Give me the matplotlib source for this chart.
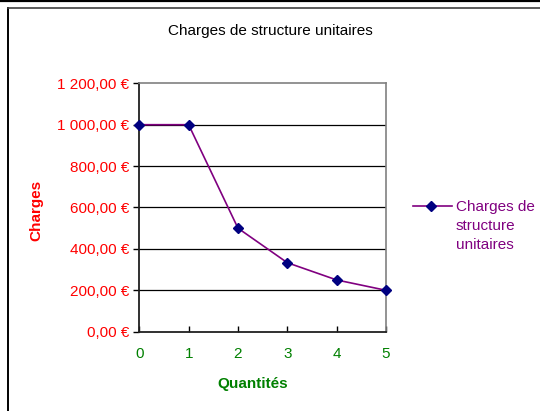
import matplotlib
matplotlib.use("Agg")
import matplotlib.pyplot as plt
from matplotlib.lines import Line2D

quantites = [0, 1, 2, 3, 4, 5]
charges = [1000, 1000, 500, 333.33, 250, 200]
y_ticks = [0, 200, 400, 600, 800, 1000, 1200]
y_labels = ["0,00 €", "200,00 €", "400,00 €", "600,00 €", "800,00 €", "1 000,00 €", "1 200,00 €"]
series_name = "Charges de structure unitaires"

plt.rcParams['font.family'] = ['Liberation Sans', 'DejaVu Sans']

W, H = 540, 411
fig = plt.figure(figsize=(W / 100, H / 100), dpi=100)

# frame lines
fig.add_artist(Line2D([0, 1], [1 - 0.8 / H, 1 - 0.8 / H], transform=fig.transFigure, color='black', lw=1.6))
fig.add_artist(Line2D([7.5 / W, 7.5 / W], [0, 1 - 8 / H], transform=fig.transFigure, color='black', lw=1.4))
fig.add_artist(Line2D([7.5 / W, 1], [1 - 8 / H, 1 - 8 / H], transform=fig.transFigure, color='#404040', lw=1.2))

left, right, top, bottom = 139.3, 386, 83.3, 331.7
ax = fig.add_axes([left / W, (H - bottom) / H, (right - left) / W, (bottom - top) / H])

ax.plot(quantites, charges, color='#800080', lw=1.2, marker='D', markersize=5.5,
        markerfacecolor='#000080', markeredgecolor='#000080', zorder=3, clip_on=False)

ax.set_xlim(0, 5)
ax.set_ylim(0, 1200)
ax.set_yticks(y_ticks)
ax.set_yticklabels(y_labels, color='#FF0000', fontsize=11)
ax.set_xticks(quantites)
ax.set_xticklabels([str(q) for q in quantites], color='#008000', fontsize=11)
ax.tick_params(axis='y', direction='out', length=4, width=1, pad=3)
ax.tick_params(axis='x', direction='in', length=4, width=1, pad=11)

for yv in y_ticks[1:-1]:
    ax.axhline(yv, color='black', lw=0.9, zorder=1)

for s in ['top', 'right']:
    ax.spines[s].set_color('#808080')
    ax.spines[s].set_linewidth(1.2)
for s in ['left', 'bottom']:
    ax.spines[s].set_color('#202020')
    ax.spines[s].set_linewidth(1.3)

fig.text(270 / W, 1 - 31 / H, series_name, ha='center', va='center', fontsize=11, color='black')
fig.text(36 / W, 1 - 210 / H, "Charges", rotation=90, ha='center', va='center',
         fontsize=11, fontweight='bold', color='#FF0000')
fig.text(253 / W, 1 - 384 / H, "Quantités", ha='center', va='center',
         fontsize=11, fontweight='bold', color='#008000')

# legend
fig.add_artist(Line2D([413 / W, 452 / W], [1 - 206 / H, 1 - 206 / H], transform=fig.transFigure,
                      color='#800080', lw=1.2))
fig.add_artist(Line2D([431 / W], [1 - 206 / H], transform=fig.transFigure, marker='D', markersize=5.5,
                      markerfacecolor='#000080', markeredgecolor='#000080', lw=0))
fig.text(456 / W, 1 - 226 / H, "Charges de\nstructure\nunitaires", ha='left', va='center',
         multialignment='left', fontsize=11, color='#800080', linespacing=1.43)

fig.savefig("out.png", dpi=100)
